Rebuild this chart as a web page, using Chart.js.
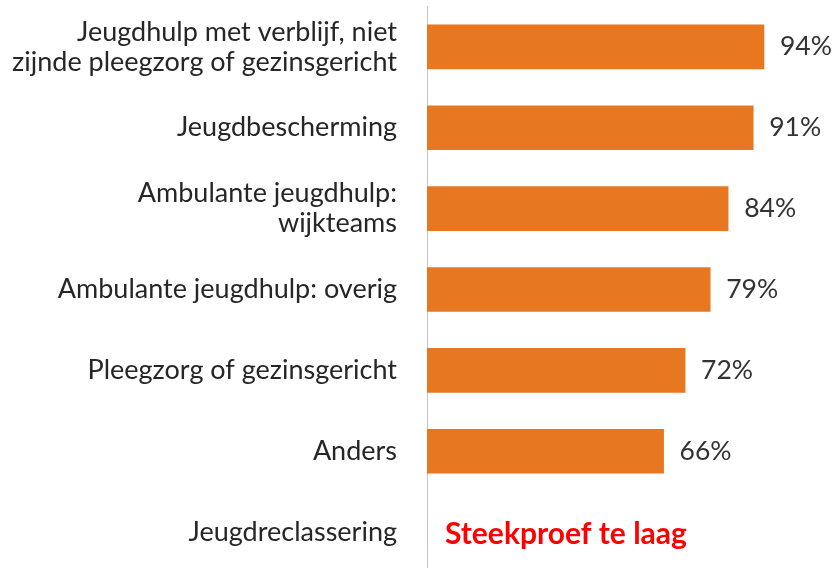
<!DOCTYPE html>
<html>
<head>
<meta charset="utf-8">
<script src="https://cdn.jsdelivr.net/npm/chart.js@4.4.0/dist/chart.umd.min.js"></script>
<style>
    html, body { margin: 0; padding: 0; background: #fff; overflow: hidden; }
    #wrap { width: 836px; height: 574px; position: relative; }
</style>
</head>
<body>
<div id="wrap"><canvas id="chart"></canvas></div>
<script>
const categories = [
    ['Jeugdhulp met verblijf, niet', 'zijnde pleegzorg of gezinsgericht'],
    'Jeugdbescherming',
    ['Ambulante jeugdhulp:', 'wijkteams'],
    'Ambulante jeugdhulp: overig',
    'Pleegzorg of gezinsgericht',
    'Anders',
    'Jeugdreclassering'
];
const values = [94, 91, 84, 79, 72, 66, null];
const noDataText = 'Steekproef te laag';

const fontFamily = 'Lato, "Open Sans", sans-serif';

// value labels next to the bars, and the note for the missing bar
const labelPlugin = {
    id: 'barLabels',
    afterDatasetsDraw(chart) {
        const ctx = chart.ctx;
        const meta = chart.getDatasetMeta(0);
        const xScale = chart.scales.x;
        const yScale = chart.scales.y;
        ctx.save();
        ctx.textBaseline = 'middle';
        ctx.textAlign = 'left';
        values.forEach((v, i) => {
            if (v === null) {
                ctx.font = 'bold 30px ' + fontFamily;
                ctx.fillStyle = '#FF0000';
                ctx.fillText(noDataText, xScale.getPixelForValue(0) + 18, yScale.getPixelForValue(i) + 2);
            } else {
                const bar = meta.data[i];
                ctx.font = '26.5px ' + fontFamily;
                ctx.fillStyle = '#333333';
                ctx.fillText(v + '%', bar.x + 16, bar.y);
            }
        });
        ctx.restore();
    }
};

new Chart(document.getElementById('chart'), {
    type: 'bar',
    data: {
        labels: categories,
        datasets: [{
            data: values,
            backgroundColor: '#E87722',
            barThickness: 44
        }]
    },
    options: {
        indexAxis: 'y',
        responsive: true,
        maintainAspectRatio: false,
        animation: false,
        layout: { padding: { top: 6.5, bottom: 1.5, left: 0, right: 50.5 } },
        plugins: { legend: { display: false }, tooltip: { enabled: false } },
        scales: {
            x: { display: false, min: 0, max: 100 },
            y: {
                afterFit: s => {
                    s.width = 427;
                    s.paddingTop = 0;
                    s.paddingBottom = 0;
                },
                grid: { display: false, drawTicks: false },
                border: { display: true, color: '#C8C8C8', width: 1 },
                ticks: {
                    padding: 30,
                    color: '#262626',
                    font: { family: fontFamily, size: 27, lineHeight: 30 / 27 }
                }
            }
        }
    },
    plugins: [labelPlugin]
});
</script>
</body>
</html>
